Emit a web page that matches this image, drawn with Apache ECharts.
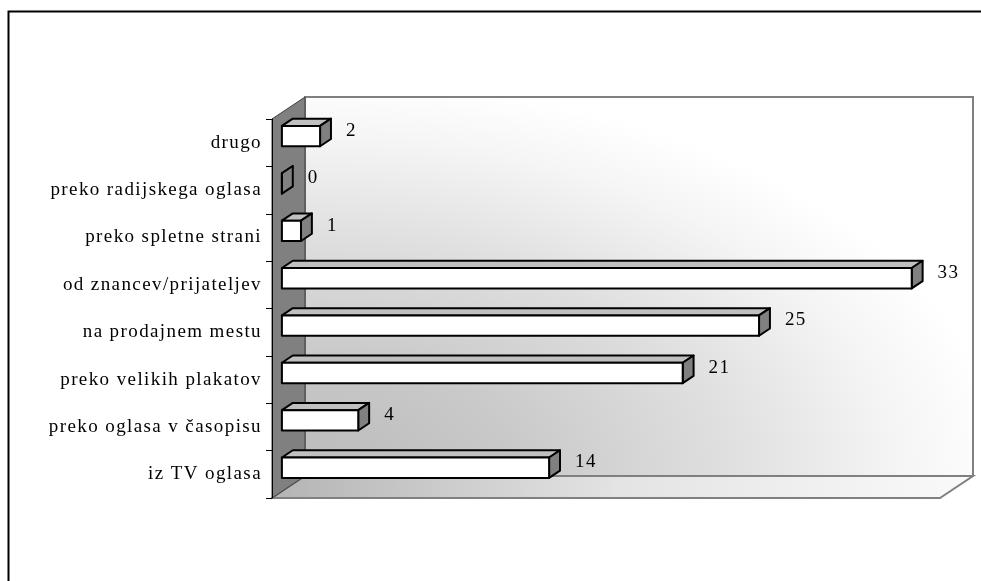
<!DOCTYPE html>
<html>
<head>
<meta charset="utf-8">
<script src="https://cdn.jsdelivr.net/npm/echarts@6/dist/echarts.min.js"></script>
<style>
  html, body { margin: 0; padding: 0; background: #ffffff; }
  #chart { width: 981px; height: 581px; }
</style>
</head>
<body>
<div id="chart"></div>
<script>
// Categories listed bottom to top, as they stack on the vertical axis
const categories = [
  'iz TV oglasa',
  'preko oglasa v časopisu',
  'preko velikih plakatov',
  'na prodajnem mestu',
  'od znancev/prijateljev',
  'preko spletne strani',
  'preko radijskega oglasa',
  'drugo'
];
const counts = [14, 4, 21, 25, 33, 1, 0, 2];
const valueMax = 35;

const FONT = '"Liberation Serif", "Times New Roman", serif';
const FONT_SIZE = 19;
const TRACKING = '1.4px';
// depth vector of the pseudo-3D box (screen pixels)
const DEPTH = [33, -22];
const BAR_FRONT = 0.3;   // bar front face position along the depth
const BAR_BACK = 0.63;   // bar back face position along the depth

const chart = echarts.init(document.getElementById('chart'), null, { renderer: 'canvas', width: 981, height: 581 });

function renderWalls(params, api) {
  const cs = params.coordSys;
  const x0 = cs.x, y0 = cs.y, x1 = cs.x + cs.width, y1 = cs.y + cs.height;
  const dx = DEPTH[0], dy = DEPTH[1];
  const H = cs.height;
  return {
    type: 'group',
    children: [
      { // back wall shading: radial glow from the lower left, stretched to the wall width
        type: 'rect',
        x: x0 + dx, y: y0 + dy,
        scaleX: cs.width / H, scaleY: 1,
        shape: { x: 0, y: 0, width: H, height: H },
        style: {
          fill: new echarts.graphic.RadialGradient(0, 1, 1.05, [
            { offset: 0, color: '#bababa' },
            { offset: 0.3, color: '#c9c9c9' },
            { offset: 0.6, color: '#dfdfdf' },
            { offset: 0.85, color: '#f5f5f5' },
            { offset: 1, color: '#ffffff' }
          ])
        }
      },
      { // back wall outline
        type: 'rect',
        shape: { x: x0 + dx, y: y0 + dy, width: cs.width, height: cs.height },
        style: { fill: 'none', stroke: '#808080', lineWidth: 2 }
      },
      { // floor
        type: 'polygon',
        shape: { points: [[x0, y1], [x0 + dx, y1 + dy], [x1 + dx, y1 + dy], [x1, y1]] },
        style: {
          fill: new echarts.graphic.LinearGradient(0, 0, 1, 0.4, [
            { offset: 0, color: '#b4b4b4' },
            { offset: 0.5, color: '#e4e4e4' },
            { offset: 1, color: '#fafafa' }
          ]),
          stroke: '#808080', lineWidth: 2
        }
      },
      { // side wall
        type: 'polygon',
        shape: { points: [[x0, y0], [x0 + dx, y0 + dy], [x0 + dx, y1 + dy], [x0, y1]] },
        style: { fill: '#808080', stroke: '#404040', lineWidth: 1 }
      }
    ]
  };
}

function renderBar(params, api) {
  const idx = api.value(1);
  const val = api.value(0);
  const base = api.coord([0, idx]);
  const end = api.coord([val, idx]);
  const band = api.size([0, 1])[1];
  const h = band * 0.215;
  const fx = DEPTH[0] * BAR_FRONT, fy = DEPTH[1] * BAR_FRONT;
  const bx = DEPTH[0] * BAR_BACK, by = DEPTH[1] * BAR_BACK;
  const xa = base[0] + fx, xb = end[0] + fx;
  const top = base[1] + fy - h, bot = base[1] + fy + h;
  const ox = bx - fx, oy = by - fy;
  const line = { stroke: '#000000', lineWidth: 2, lineJoin: 'round' };
  return {
    type: 'group',
    children: [
      {
        type: 'polygon',
        shape: { points: [[xa, top], [xa + ox, top + oy], [xb + ox, top + oy], [xb, top]] },
        style: Object.assign({ fill: '#c0c0c0' }, line)
      },
      {
        type: 'polygon',
        shape: { points: [[xb, top], [xb + ox, top + oy], [xb + ox, bot + oy], [xb, bot]] },
        style: Object.assign({ fill: '#808080' }, line)
      },
      {
        type: 'rect',
        shape: { x: xa, y: top, width: xb - xa, height: bot - top },
        style: Object.assign({ fill: '#ffffff' }, line)
      },
      {
        type: 'text',
        x: end[0] + bx + 15,
        y: base[1] + by + 2,
        style: {
          text: String(val),
          fill: '#000000',
          font: FONT_SIZE + 'px ' + FONT,
          align: 'left',
          verticalAlign: 'middle'
        }
      }
    ]
  };
}

chart.setOption({
  animation: false,
  backgroundColor: '#ffffff',
  grid: { left: 272, top: 119, width: 668, height: 379, containLabel: false },
  xAxis: {
    type: 'value', min: 0, max: valueMax, show: false
  },
  yAxis: {
    type: 'category',
    data: categories,
    z: 10,
    boundaryGap: true,
    axisLine: { show: true, lineStyle: { color: '#000000', width: 1 } },
    axisTick: { show: true, length: 6, inside: false, lineStyle: { color: '#000000', width: 1 } },
    axisLabel: { margin: 10, color: '#000000', fontFamily: FONT, fontSize: FONT_SIZE },
    splitLine: { show: false }
  },
  graphic: [{
    type: 'rect',
    left: 6, top: 9,
    shape: { width: 1000, height: 600 },
    style: { fill: 'none', stroke: '#000000', lineWidth: 2 },
    silent: true
  }],
  series: [
    {
      type: 'custom',
      name: 'walls',
      renderItem: renderWalls,
      data: [[0, 0]],
      z: 1,
      silent: true
    },
    {
      type: 'custom',
      name: 'counts',
      renderItem: renderBar,
      encode: { x: 0, y: 1 },
      data: counts.map((v, i) => [v, i]),
      z: 3,
      silent: true
    }
  ]
});

// loose tracking for the text: the canvas layers exist after the first paint,
// so set the spacing on their contexts and repaint everything once
const zr = chart.getZr();
zr.flush();
document.querySelectorAll('#chart canvas').forEach(function (c) {
  const ctx = c.getContext('2d');
  if ('letterSpacing' in ctx) ctx.letterSpacing = TRACKING;
});
if (zr.painter && zr.painter.refresh) zr.painter.refresh(true);
</script>
</body>
</html>
